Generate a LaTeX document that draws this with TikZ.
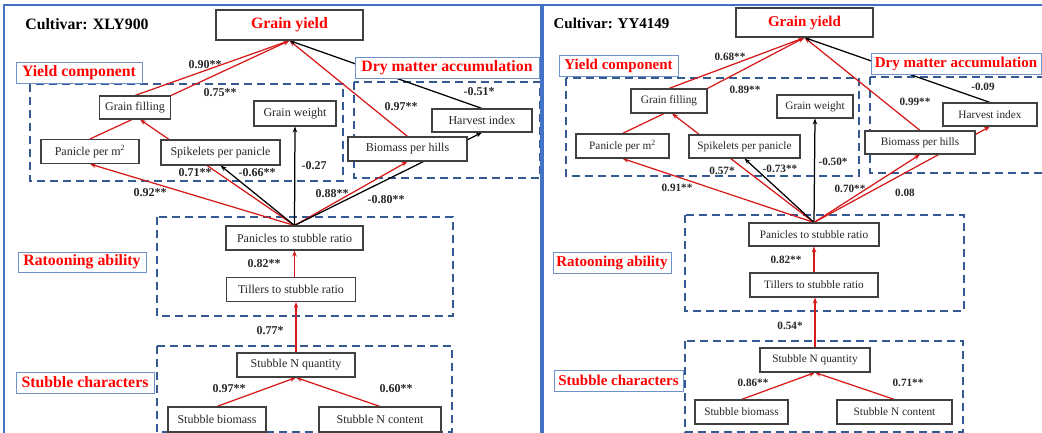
\documentclass[tikz,border=0pt]{standalone}
\usepackage{fontspec}
\setmainfont{Liberation Serif}
\usetikzlibrary{calc, positioning, arrows.meta, backgrounds}

\definecolor{linered}{RGB}{214,26,26}
\definecolor{groupblue}{RGB}{52,90,148}
\definecolor{tagblue}{RGB}{112,146,204}
\definecolor{frameblue}{RGB}{68,114,196}

\newcommand{\boxfs}{12}
\newcommand{\headfs}{15.8}
\newcommand{\coeffs}{12}

\tikzset{
  varbox/.style={draw=black!75, line width=1.1pt, fill=white, inner sep=0pt, text=black!85,
    font=\fontsize{\boxfs}{\boxfs}\selectfont},
  headbox/.style={draw=black!75, line width=1.2pt, fill=white, inner sep=0pt, text=red,
    font=\fontsize{\headfs}{\headfs}\selectfont\bfseries},
  tagbox/.style={draw=tagblue, line width=0.8pt, fill=white, inner sep=0pt, text=red,
    font=\fontsize{\headfs}{\headfs}\selectfont\bfseries},
  titletext/.style={inner sep=0pt, font=\fontsize{\headfs}{\headfs}\selectfont\bfseries},
  coef/.style={inner sep=1pt, text=black!85, font=\fontsize{\coeffs}{\coeffs}\selectfont\bfseries},
  groupbox/.style={draw=groupblue, line width=1.6pt, dash pattern=on 8pt off 5pt},
  redpath/.style={draw=linered, line width=1.25pt, -{Stealth[length=6pt,width=4.5pt]}},
  blackpath/.style={draw=black, line width=1.25pt, -{Stealth[length=6pt,width=4.5pt]}},
}

\begin{document}
\begin{tikzpicture}[x=1pt, y=-1pt]
\useasboundingbox (0,0) rectangle (1042,433);

% panel frames
\draw[frameblue, line width=2pt] (4,445) -- (4,5) -- (541,5) -- (541,445);
\draw[frameblue, line width=2pt] (543,445) -- (543,5) -- (1050,5);

%%% cultivar XLY900
\node[titletext] (cvL) at (87,24) {Cultivar: XLY900};
\node[headbox, minimum width=147pt, minimum height=30pt] (gyL) at (289.5,25) {Grain yield};
\node[tagbox, minimum width=126pt, minimum height=21pt] (ycL) at (79,72.5) {Yield component};
\node[tagbox, minimum width=184pt, minimum height=21pt] (dmL) at (447,67.5) {Dry matter accumulation};
\node[tagbox, minimum width=128pt, minimum height=20pt] (raL) at (82,262) {Ratooning ability};
\node[tagbox, minimum width=138pt, minimum height=21pt] (scL) at (85,382.5) {Stubble characters};

\node[varbox, minimum width=71pt, minimum height=23pt] (gfL) at (135,107.5) {Grain filling};
\node[varbox, minimum width=82pt, minimum height=25pt] (gwL) at (295,113.5) {Grain weight};
\node[varbox, minimum width=98pt, minimum height=24pt] (ppmL) at (90,151.5) {Panicle per m\textsuperscript{2}};
\node[varbox, minimum width=119pt, minimum height=25pt] (sppL) at (220.5,152.5) {Spikelets per panicle};
\node[varbox, minimum width=119pt, minimum height=24pt] (bphL) at (407.5,149) {Biomass per hills};
\node[varbox, minimum width=100pt, minimum height=23pt] (hiL) at (482,120.5) {Harvest index};
\node[varbox, minimum width=137pt, minimum height=24pt] (psrL) at (294.5,238) {Panicles to stubble ratio};
\node[varbox, minimum width=129pt, minimum height=24pt] (tsrL) at (291,289.5) {Tillers to stubble ratio};
\node[varbox, minimum width=118pt, minimum height=24pt] (snqL) at (296,365) {Stubble N quantity};
\node[varbox, minimum width=98pt, minimum height=25pt] (sbL) at (217,419.5) {Stubble biomass};
\node[varbox, minimum width=122pt, minimum height=25pt] (sncL) at (380,419.5) {Stubble N content};

\node[coef] (c1L) at (205,65) {0.90**};
\node[coef] (c2L) at (220,93) {0.75**};
\node[coef] (c3L) at (401,107) {0.97**};
\node[coef] (c4L) at (479,92) {-0.51*};
\node[coef] (c5L) at (195,173) {0.71**};
\node[coef] (c6L) at (257,173) {-0.66**};
\node[coef] (c7L) at (314,166) {-0.27};
\node[coef] (c8L) at (150,193) {0.92**};
\node[coef] (c9L) at (332,194) {0.88**};
\node[coef] (c10L) at (386,200) {-0.80**};
\node[coef] (c11L) at (264,264) {0.82**};
\node[coef] (c12L) at (270,331) {0.77*};
\node[coef] (c13L) at (229,389) {0.97**};
\node[coef] (c14L) at (396,389) {0.60**};

%%% cultivar YY4149
\begin{scope}
\renewcommand{\boxfs}{11.3}
\renewcommand{\headfs}{15}
\renewcommand{\coeffs}{11.2}
\node[titletext] (cvR) at (611.5,23) {Cultivar: YY4149};
\node[headbox, minimum width=137pt, minimum height=29pt] (gyR) at (804.5,22.5) {Grain yield};
\node[tagbox, minimum width=119pt, minimum height=21pt] (ycR) at (618.5,65.5) {Yield component};
\node[tagbox, minimum width=170pt, minimum height=21pt] (dmR) at (956,63.5) {Dry matter accumulation};
\node[tagbox, minimum width=118pt, minimum height=21pt] (raR) at (612,262.5) {Ratooning ability};
\node[tagbox, minimum width=129pt, minimum height=21pt] (scR) at (618.5,380.5) {Stubble characters};

\node[varbox, minimum width=76pt, minimum height=24pt] (gfR) at (669,101) {Grain filling};
\node[varbox, minimum width=76pt, minimum height=23pt] (gwR) at (815,106.5) {Grain weight};
\node[varbox, minimum width=93pt, minimum height=24pt] (ppmR) at (622.5,146) {Panicle per m\textsuperscript{2}};
\node[varbox, minimum width=111pt, minimum height=23pt] (sppR) at (744.5,146.5) {Spikelets per panicle};
\node[varbox, minimum width=110pt, minimum height=23pt] (bphR) at (920,142.5) {Biomass per hills};
\node[varbox, minimum width=94pt, minimum height=23pt] (hiR) at (990,114.5) {Harvest index};
\node[varbox, minimum width=130pt, minimum height=23pt] (psrR) at (814,234.5) {Panicles to stubble ratio};
\node[varbox, minimum width=128pt, minimum height=24pt] (tsrR) at (814,285) {Tillers to stubble ratio};
\node[varbox, minimum width=110pt, minimum height=24pt] (snqR) at (815,360) {Stubble N quantity};
\node[varbox, minimum width=93pt, minimum height=24pt] (sbR) at (741.5,412) {Stubble biomass};
\node[varbox, minimum width=115pt, minimum height=24pt] (sncR) at (894.5,412) {Stubble N content};

\node[coef] (c1R) at (730,57) {0.68**};
\node[coef] (c2R) at (745,90) {0.89**};
\node[coef] (c3R) at (915,102) {0.99**};
\node[coef] (c4R) at (983,87) {-0.09};
\node[coef] (c5R) at (722,171) {0.57*};
\node[coef] (c6R) at (780,169) {-0.73**};
\node[coef] (c7R) at (833,162) {-0.50*};
\node[coef] (c8R) at (677,188) {0.91**};
\node[coef] (c9R) at (850,189) {0.70**};
\node[coef] (c10R) at (905,193) {0.08};
\node[coef] (c11R) at (786,260) {0.82**};
\node[coef] (c12R) at (790,326) {0.54*};
\node[coef] (c13R) at (753,383) {0.86**};
\node[coef] (c14R) at (908,383) {0.71**};
\end{scope}

\begin{scope}[on background layer]
% dashed groups
\draw[groupbox] (30,84) rectangle (343,181);
\draw[groupbox] (354,82) rectangle (540,178);
\draw[groupbox] (157,217) rectangle (453,316);
\draw[groupbox] (157,346) rectangle (452,432);
\draw[groupbox] (566,78) rectangle (859,176);
\draw[groupbox] (870,77) rectangle (1050,173);
\draw[groupbox] (685,215) rectangle (964,311);
\draw[groupbox] (685,341) rectangle (963,432);

% XLY900 paths
\draw[redpath] (sbL.north) -- (snqL.south);
\draw[redpath] (sncL.north) -- (snqL.south);
\draw[redpath] (snqL.north) -- (snqL.north |- tsrL.south);
\draw[redpath] (tsrL.north -| psrL.south) -- (psrL.south);
\draw[redpath] (psrL.north) -- (ppmL.south);
\draw[redpath] (psrL.north) -- ($(gfL.south)+(5,0)$);
\draw[blackpath] (psrL.north) -- (sppL.south);
\draw[blackpath] (psrL.north) -- (gwL.south);
\draw[redpath] (psrL.north) -- (bphL.south);
\draw[blackpath] (psrL.north) -- (hiL.south);
\draw[redpath, -] (ppmL.north) -- ($(gfL.south)+(-3,0)$);
\draw[redpath] (gfL.north) -- (gyL.south);
\draw[redpath] (gfL.north east) -- (gyL.south);
\draw[redpath] (bphL.north) -- (gyL.south);
\draw[blackpath] (hiL.north) -- (gyL.south);

% YY4149 paths
\draw[redpath] (sbR.north) -- (snqR.south);
\draw[redpath] (sncR.north) -- (snqR.south);
\draw[redpath] (snqR.north) -- (snqR.north |- tsrR.south);
\draw[redpath] (tsrR.north -| psrR.south) -- (psrR.south);
\draw[redpath] (psrR.north) -- (ppmR.south);
\draw[redpath] (psrR.north) -- ($(gfR.south)+(3,0)$);
\draw[blackpath] (psrR.north) -- (sppR.south);
\draw[blackpath] (psrR.north) -- (gwR.south);
\draw[redpath] (psrR.north) -- (bphR.south);
\draw[redpath] (psrR.north) -- (hiR.south);
\draw[redpath, -] (ppmR.north) -- ($(gfR.south)+(-5,0)$);
\draw[redpath] (gfR.north) -- (gyR.south);
\draw[redpath] (gfR.north east) -- (gyR.south);
\draw[redpath] (bphR.north) -- (gyR.south);
\draw[blackpath] (hiR.north) -- (gyR.south);
\end{scope}
\end{tikzpicture}
\end{document}
